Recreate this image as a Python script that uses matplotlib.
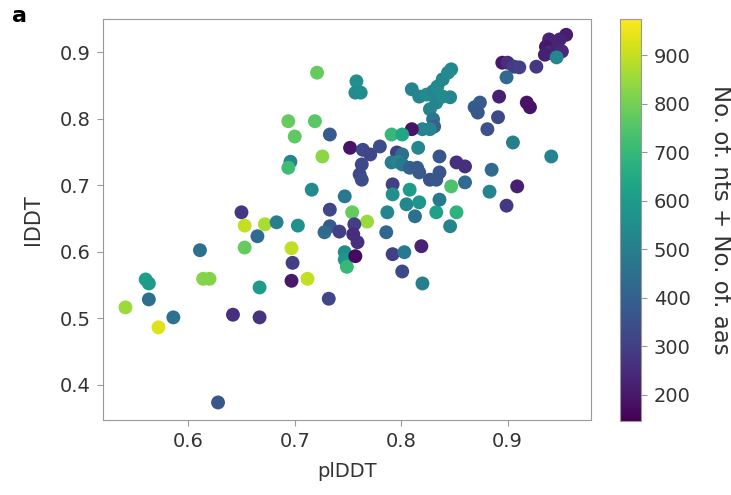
import matplotlib
matplotlib.use("Agg")
import matplotlib.pyplot as plt

# predicted vs observed lDDT, coloured by total residue count
plddt = [0.611, 0.560, 0.563, 0.563, 0.541, 0.586, 0.572, 0.614, 0.620, 0.642,
         0.650, 0.653, 0.665, 0.653, 0.672, 0.683, 0.703, 0.667, 0.667, 0.628,
         0.697, 0.698, 0.697, 0.712, 0.732, 0.733, 0.754, 0.733, 0.742, 0.728,
         0.768, 0.756, 0.755, 0.759, 0.747, 0.747, 0.749, 0.757, 0.747, 0.721,
         0.694, 0.719, 0.700, 0.733, 0.726, 0.696, 0.694, 0.716, 0.787, 0.786,
         0.792, 0.792, 0.808, 0.805, 0.817, 0.813, 0.833, 0.852, 0.846, 0.836,
         0.819, 0.792, 0.803, 0.801, 0.820, 0.827, 0.833, 0.836, 0.836, 0.847,
         0.852, 0.860, 0.860, 0.885, 0.883, 0.909, 0.899, 0.941, 0.955, 0.949,
         0.939, 0.936, 0.939, 0.946, 0.951, 0.935, 0.946, 0.895, 0.900, 0.906,
         0.911, 0.927, 0.899, 0.892, 0.918, 0.921, 0.874, 0.869, 0.872, 0.891,
         0.881, 0.905, 0.847, 0.846, 0.758, 0.757, 0.762, 0.810, 0.817, 0.824,
         0.830, 0.834, 0.839, 0.844, 0.833, 0.827, 0.839, 0.830, 0.831, 0.820,
         0.827, 0.810, 0.791, 0.801, 0.752, 0.764, 0.771, 0.780, 0.796, 0.801,
         0.816, 0.763, 0.761, 0.763, 0.791, 0.797, 0.801, 0.808, 0.815, 0.817]
lddt = [0.602, 0.558, 0.552, 0.528, 0.516, 0.501, 0.486, 0.559, 0.559, 0.505,
        0.659, 0.639, 0.623, 0.606, 0.641, 0.644, 0.639, 0.546, 0.501, 0.373,
        0.605, 0.583, 0.556, 0.559, 0.529, 0.663, 0.659, 0.638, 0.630, 0.629,
        0.645, 0.641, 0.626, 0.614, 0.599, 0.588, 0.577, 0.593, 0.683, 0.869,
        0.796, 0.796, 0.773, 0.776, 0.743, 0.735, 0.726, 0.693, 0.659, 0.629,
        0.701, 0.686, 0.693, 0.671, 0.674, 0.653, 0.659, 0.659, 0.638, 0.678,
        0.608, 0.596, 0.599, 0.570, 0.552, 0.708, 0.708, 0.719, 0.743, 0.698,
        0.734, 0.728, 0.704, 0.723, 0.690, 0.698, 0.669, 0.743, 0.926, 0.919,
        0.919, 0.908, 0.899, 0.904, 0.901, 0.896, 0.892, 0.884, 0.884, 0.878,
        0.877, 0.878, 0.862, 0.833, 0.824, 0.817, 0.824, 0.817, 0.809, 0.802,
        0.784, 0.764, 0.874, 0.832, 0.856, 0.839, 0.839, 0.844, 0.833, 0.836,
        0.841, 0.848, 0.859, 0.869, 0.824, 0.814, 0.833, 0.799, 0.788, 0.784,
        0.784, 0.784, 0.776, 0.776, 0.756, 0.753, 0.746, 0.758, 0.749, 0.746,
        0.756, 0.731, 0.716, 0.708, 0.734, 0.735, 0.731, 0.726, 0.726, 0.719]
n_res = [450, 620, 600, 450, 850, 460, 930, 820, 820, 260,
         280, 900, 430, 780, 870, 500, 570, 600, 270, 370,
         900, 300, 200, 900, 320, 320, 780, 380, 300, 430,
         850, 300, 250, 260, 550, 580, 700, 170, 480, 780,
         780, 760, 770, 380, 830, 530, 720, 540, 520, 420,
         300, 560, 600, 530, 580, 450, 620, 680, 520, 480,
         230, 300, 480, 330, 500, 350, 370, 360, 360, 740,
         260, 260, 430, 430, 520, 220, 280, 510, 210, 230,
         230, 200, 250, 230, 240, 220, 530, 200, 260, 290,
         300, 280, 430, 220, 190, 190, 380, 380, 370, 330,
         350, 500, 530, 520, 560, 540, 550, 520, 520, 540,
         530, 540, 530, 540, 520, 520, 540, 470, 400, 520,
         520, 190, 700, 640, 190, 330, 320, 340, 300, 450,
         530, 330, 330, 340, 500, 520, 480, 400, 380, 380]
cbar_ticks = [200, 300, 400, 500, 600, 700, 800, 900]

text_col = "#333333"
edge_col = "#999999"
plt.rcParams["font.family"] = "DejaVu Sans"

fig = plt.figure(figsize=(7.31, 4.95), dpi=100)
ax = fig.add_axes([0.141, 0.152, 0.667, 0.810])
cax = fig.add_axes([0.848, 0.150, 0.029, 0.812])

sc = ax.scatter(plddt, lddt, c=n_res, cmap="viridis", vmin=146, vmax=975,
                s=100, linewidths=0)

ax.set_xlim(0.520, 0.978)
ax.set_ylim(0.347, 0.950)
ax.set_xticks([0.6, 0.7, 0.8, 0.9])
ax.set_yticks([0.4, 0.5, 0.6, 0.7, 0.8, 0.9])
ax.set_xlabel("plDDT", fontsize=14, color=text_col, labelpad=8)
ax.set_ylabel("lDDT", fontsize=15, color=text_col, labelpad=12)
for sp in ax.spines.values():
    sp.set_color(edge_col)
ax.tick_params(colors=edge_col, labelcolor=text_col, labelsize=14, length=4, pad=5)

cb = fig.colorbar(sc, cax=cax, ticks=cbar_ticks)
cb.outline.set_edgecolor(edge_col)
cax.tick_params(colors=edge_col, labelcolor=text_col, labelsize=14, length=4, pad=5)
cb.set_label("No. of. nts + No. of. aas", rotation=270, labelpad=30,
             fontsize=16.5, color=text_col)

fig.text(0.016, 0.955, "a", fontsize=16, fontweight="bold", color="black")

fig.savefig("out.png", dpi=100)
